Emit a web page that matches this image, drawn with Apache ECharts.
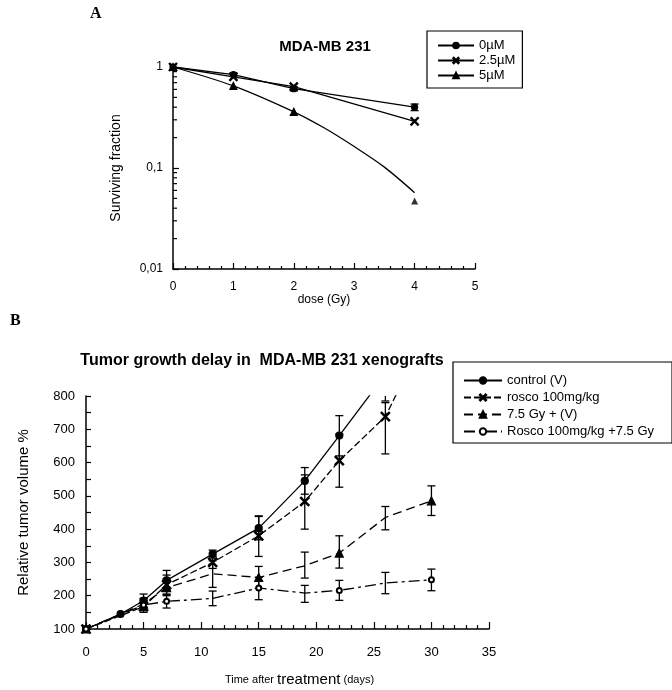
<!DOCTYPE html>
<html>
<head>
<meta charset="utf-8">
<script src="https://cdn.jsdelivr.net/npm/echarts@6/dist/echarts.min.js"></script>
<style>
  html, body { margin: 0; padding: 0; background: #fff; }
  #chart { width: 672px; height: 690px; }
</style>
</head>
<body>
<div id="chart"></div>
<script>
// Panel A: clonogenic survival
const dose = [0, 1, 2, 4];
const surv0 = [1, 0.84, 0.61, 0.40];
const surv25 = [1, 0.80, 0.64, 0.29];
const surv5 = [1, 0.65, 0.36, 0.047];
const fitDose5 = [0, 1, 2, 2.5, 3, 3.5, 4];
const fit5 = [1, 0.65, 0.36, 0.25, 0.163, 0.102, 0.057];
const err0 = [[1, 0.81, 0.87], [2, 0.58, 0.64], [4, 0.37, 0.43]];
const logMinorTicks = [0.02, 0.03, 0.04, 0.05, 0.06, 0.07, 0.08, 0.09,
                       0.2, 0.3, 0.4, 0.5, 0.6, 0.7, 0.8, 0.9];

// Panel B: tumor growth
const daysCtrl = [0, 3, 5, 7, 11, 15, 19, 22, 26];
const ctrl = [100, 145, 185, 246, 325, 403, 545, 681, 865];
const ctrlErr = [[5, 165, 205], [7, 216, 276], [11, 313, 337], [15, 368, 438],
                 [19, 505, 585], [22, 620, 741], [26, 785, 945]];
const days = [0, 5, 7, 11, 15, 19, 22, 26, 30];
const rosco = [100, 167, 233, 300, 380, 483, 606, 738, 1020];
const roscoErr = [[5, 150, 185], [7, 205, 262], [11, 282, 318], [15, 318, 440],
                  [19, 400, 563], [22, 526, 685], [26, 626, 780]];
const irr = [100, 175, 224, 266, 255, 290, 328, 435, 485];
const irrErr = [[5, 158, 192], [7, 200, 250], [11, 225, 305], [15, 222, 288],
                [19, 253, 331], [22, 283, 380], [26, 398, 468], [30, 441, 530]];
const combo = [100, 172, 183, 192, 223, 208, 216, 238, 248];
const comboErr = [[5, 155, 190], [7, 163, 203], [11, 170, 214], [15, 188, 255],
                  [19, 180, 231], [22, 186, 246], [26, 206, 270], [30, 215, 280]];
// days where the irradiated groups show no marker, only the bar
const noMarkerDays = [11, 19, 26];

const FONT = 'Liberation Sans';
const XMARK = 'path://M0,1 L1,0 L5,4 L9,0 L10,1 L6,5 L10,9 L9,10 L5,6 L1,10 L0,9 L4,5 Z';

function zip(xs, ys) {
    return xs.map((x, i) => [x, ys[i]]);
}

function zipHide(xs, ys) {
    return xs.map((x, i) => noMarkerDays.indexOf(x) >= 0
        ? { value: [x, ys[i]], symbol: 'none' } : [x, ys[i]]);
}

function errorBars(params, api) {
    const x = api.value(0);
    const a = api.coord([x, api.value(1)]);
    const b = api.coord([x, api.value(2)]);
    const w = 4;
    const st = { stroke: '#000', lineWidth: 1.3 };
    return {
        type: 'group',
        children: [
            { type: 'line', shape: { x1: a[0], y1: a[1], x2: b[0], y2: b[1] }, style: st },
            { type: 'line', shape: { x1: a[0] - w, y1: a[1], x2: a[0] + w, y2: a[1] }, style: st },
            { type: 'line', shape: { x1: b[0] - w, y1: b[1], x2: b[0] + w, y2: b[1] }, style: st }
        ]
    };
}

function lineSeries(name, data, xi, symbol, size, dash, extra) {
    return Object.assign({
        name: name,
        type: 'line',
        xAxisIndex: xi,
        yAxisIndex: xi,
        data: data,
        symbol: symbol,
        symbolSize: size,
        showAllSymbol: true,
        lineStyle: { color: '#000', width: 1.3, type: dash },
        itemStyle: { color: '#000', borderColor: '#000', borderWidth: 1.2 },
        z: 3
    }, extra || {});
}

function errSeries(data, xi) {
    return {
        type: 'custom',
        xAxisIndex: xi,
        yAxisIndex: xi,
        renderItem: errorBars,
        data: data,
        clip: true,
        encode: { x: 0, y: [1, 2] },
        silent: true,
        z: 2
    };
}

const axisLine = { lineStyle: { color: '#000', width: 1.5 } };

document.addEventListener('DOMContentLoaded', () => {
    const chart = echarts.init(document.getElementById('chart'));

    // 5µM fitted curve, marker only on measured doses lying on the curve
    const fit5Data = fitDose5.map((d, i) => {
        const measured = dose.indexOf(d) >= 0 && d !== 4;
        return measured ? [d, fit5[i]] : { value: [d, fit5[i]], symbol: 'none' };
    });

    const option = {
        backgroundColor: '#fff',
        animation: false,
        textStyle: { fontFamily: FONT, color: '#000' },
        title: [
            {
                text: 'MDA-MB 231', left: 320, top: 34, textAlign: 'center',
                textStyle: { fontFamily: FONT, fontSize: 15, fontWeight: 'bold', color: '#000' }
            },
            {
                text: 'Tumor growth delay in  MDA-MB 231 xenografts', left: 257, top: 348, textAlign: 'center',
                textStyle: { fontFamily: FONT, fontSize: 16, fontWeight: 'bold', color: '#000' }
            }
        ],
        graphic: [
            { type: 'text', left: 90, top: 6,
              style: { text: 'A', font: 'bold 16px "Liberation Serif"', fill: '#000' } },
            { type: 'text', left: 10, top: 313,
              style: { text: 'B', font: 'bold 16px "Liberation Serif"', fill: '#000' } }
        ],
        legend: [
            {
                data: ['0µM', '2.5µM', '5µM'],
                orient: 'vertical', left: 427, top: 31,
                padding: [7, 7, 5, 10], itemGap: 0, itemWidth: 36, itemHeight: 7,
                borderColor: '#000', borderWidth: 1.2, selectedMode: false,
                textStyle: { fontFamily: FONT, fontSize: 13, color: '#000', lineHeight: 15 }
            },
            {
                data: ['control (V)', 'rosco 100mg/kg', '7.5 Gy + (V)', 'Rosco 100mg/kg +7.5 Gy'],
                orient: 'vertical', left: 453, top: 362,
                padding: [11, 18, 4, 10], itemGap: 2, itemWidth: 38, itemHeight: 8,
                borderColor: '#000', borderWidth: 1.2, selectedMode: false,
                textStyle: { fontFamily: FONT, fontSize: 13, color: '#000', lineHeight: 15 }
            }
        ],
        grid: [
            { left: 173, right: 197, top: 67, bottom: 421 },
            { left: 86, right: 183, top: 396, bottom: 61 }
        ],
        xAxis: [
            {
                gridIndex: 0, type: 'value', min: 0, max: 5, interval: 1,
                name: 'dose (Gy)', nameLocation: 'middle', nameGap: 22,
                nameTextStyle: { fontFamily: FONT, fontSize: 12, color: '#000' },
                axisLine: axisLine,
                axisTick: { inside: true, length: 6, lineStyle: { color: '#000', width: 1.2 } },
                minorTick: { show: true, splitNumber: 5, length: 3, lineStyle: { color: '#000', width: 1.2 } },
                axisLabel: { fontFamily: FONT, fontSize: 12, color: '#000', margin: 12 },
                splitLine: { show: false }
            },
            {
                gridIndex: 1, type: 'value', min: 0, max: 35, interval: 5,
                name: '{a|Time after }{b|treatment}{a| (days)}', nameLocation: 'middle', nameGap: 43,
                nameTextStyle: {
                    padding: [0, 0, 0, 24],
                    rich: {
                        a: { fontFamily: FONT, fontSize: 11, color: '#000' },
                        b: { fontFamily: FONT, fontSize: 15, color: '#000' }
                    }
                },
                axisLine: axisLine,
                axisTick: { inside: true, length: 7, lineStyle: { color: '#000', width: 1.2 } },
                minorTick: { show: true, splitNumber: 5, length: 4, lineStyle: { color: '#000', width: 1.2 } },
                axisLabel: { fontFamily: FONT, fontSize: 13, color: '#000', margin: 17 },
                splitLine: { show: false }
            }
        ],
        yAxis: [
            {
                gridIndex: 0, type: 'log', logBase: 10, min: 0.01, max: 1,
                name: 'Surviving fraction', nameLocation: 'middle', nameGap: 50, nameRotate: 90,
                nameTextStyle: { fontFamily: FONT, fontSize: 14, color: '#000' },
                axisLine: axisLine,
                axisTick: { inside: true, length: 6, lineStyle: { color: '#000', width: 1.2 } },
                axisLabel: {
                    fontFamily: FONT, fontSize: 12, color: '#000', margin: 10,
                    formatter: v => String(Math.round(v * 100) / 100).replace('.', ',')
                },
                splitLine: { show: false }
            },
            {
                gridIndex: 1, type: 'value', min: 100, max: 800, interval: 100,
                name: 'Relative tumor volume %', nameLocation: 'middle', nameGap: 55, nameRotate: 90,
                nameTextStyle: { fontFamily: FONT, fontSize: 15, color: '#000' },
                axisLine: axisLine,
                axisTick: { inside: true, length: 5, lineStyle: { color: '#000', width: 1.2 } },
                minorTick: { show: true, splitNumber: 2, length: 5, lineStyle: { color: '#000', width: 1.2 } },
                axisLabel: { fontFamily: FONT, fontSize: 13, color: '#000', margin: 11 },
                splitLine: { show: false }
            }
        ],
        series: [
            // log minor ticks on panel A's y axis
            {
                type: 'custom', xAxisIndex: 0, yAxisIndex: 0, silent: true,
                data: logMinorTicks.map(v => [0, v]),
                renderItem: (params, api) => {
                    const p = api.coord([0, api.value(1)]);
                    return { type: 'line', shape: { x1: p[0], y1: p[1], x2: p[0] + 4, y2: p[1] },
                             style: { stroke: '#000', lineWidth: 1.2 } };
                }
            },
            errSeries(err0, 0),
            lineSeries('0µM', zip(dose, surv0), 0, 'circle', 6, 'solid'),
            lineSeries('2.5µM', zip(dose, surv25), 0, XMARK, 8, 'solid'),
            lineSeries('5µM', fit5Data, 0, 'triangle', 7, 'solid', { smooth: 0.3 }),
            {
                type: 'scatter', xAxisIndex: 0, yAxisIndex: 0,
                data: [[dose[3], surv5[3]]], symbol: 'triangle', symbolSize: 7,
                itemStyle: { color: '#000' }, z: 3
            },

            errSeries(ctrlErr, 1),
            errSeries(roscoErr, 1),
            errSeries(irrErr, 1),
            errSeries(comboErr, 1),
            lineSeries('control (V)', zip(daysCtrl, ctrl), 1, 'circle', 7, 'solid'),
            lineSeries('rosco 100mg/kg', zip(days, rosco), 1, XMARK, 9, [7, 3]),
            lineSeries('7.5 Gy + (V)', zipHide(days, irr), 1, 'triangle', 8, [9, 5]),
            lineSeries('Rosco 100mg/kg +7.5 Gy', zipHide(days, combo), 1, 'emptyCircle', 5, [11, 4, 3, 4],
                       { itemStyle: { color: '#000', borderWidth: 1.3 } })
        ]
    };

    chart.setOption(option);
});
</script>
</body>
</html>
